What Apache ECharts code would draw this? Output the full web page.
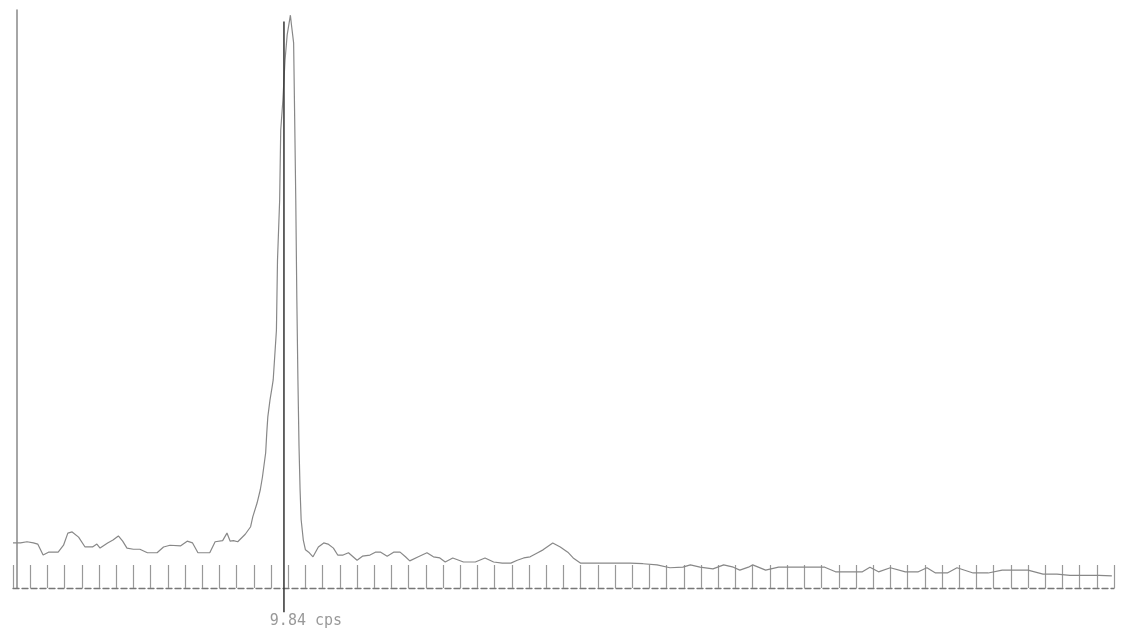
<!DOCTYPE html>
<html>
<head>
<meta charset="utf-8">
<script src="https://cdn.jsdelivr.net/npm/echarts@6/dist/echarts.min.js"></script>
<style>
html, body { margin: 0; padding: 0; background: #fff; }
#main { width: 1125px; height: 632px; }
</style>
</head>
<body>
<div id="main"></div>
<script>
// channel numbers of the spectrum points (1024 channel MCA, tick every 16)
var channels = [0, 7, 13, 19, 23, 28, 33, 42, 47, 51, 55, 61, 67, 74, 78, 81, 88, 93, 98, 102,
  106, 112, 118, 125, 134, 140, 146, 156, 162, 167, 172, 183, 188, 195, 199, 202, 205, 209, 216, 221,
  223, 227, 230, 232, 235, 236, 237, 239, 241, 242, 245, 246, 248, 249, 251, 253, 255, 258, 259, 261,
  262, 263, 264, 265, 266, 267, 268, 270, 272, 275, 279, 284, 289, 293, 298, 302, 307, 312, 320, 325,
  332, 337, 342, 348, 354, 360, 365, 369, 377, 385, 391, 397, 402, 409, 419, 430, 439, 447, 455, 463,
  469, 475, 481, 488, 493, 502, 509, 516, 521, 528, 537, 549, 562, 574, 586, 599, 611, 623, 630, 639,
  651, 661, 670, 676, 684, 688, 700, 712, 728, 740, 755, 765, 781, 790, 797, 805, 816, 830, 842, 850,
  858, 869, 878, 893, 907, 920, 932, 944, 958, 971, 983, 996, 1010, 1022];

// counts
var counts = [7.8, 7.8, 8.0, 7.8, 7.6, 5.7, 6.2, 6.2, 7.4, 9.5, 9.7, 8.8, 7.1, 7.1, 7.6, 6.9, 7.8, 8.3, 9.0, 8.1,
  6.9, 6.7, 6.7, 6.1, 6.1, 7.1, 7.4, 7.3, 8.1, 7.8, 6.1, 6.1, 8.0, 8.2, 9.5, 8.1, 8.2, 8.0, 9.3, 10.6,
  12.3, 14.7, 17.0, 19.2, 23.4, 26.8, 29.6, 32.5, 34.8, 36.0, 44.6, 56.7, 67.1, 79.2, 84.4, 91.3, 95.7, 99.1, 97.4, 94.3,
  81.0, 67.1, 49.8, 36.0, 24.6, 17.0, 11.8, 8.3, 6.6, 6.2, 5.4, 7.1, 7.8, 7.6, 6.9, 5.7, 5.7, 6.1, 4.8, 5.5,
  5.7, 6.2, 6.2, 5.5, 6.2, 6.2, 5.4, 4.7, 5.4, 6.1, 5.4, 5.2, 4.5, 5.2, 4.5, 4.5, 5.2, 4.5, 4.3, 4.3,
  4.8, 5.2, 5.4, 6.1, 6.6, 7.8, 7.1, 6.2, 5.2, 4.3, 4.3, 4.3, 4.3, 4.3, 4.2, 4.0, 3.5, 3.6, 4.0, 3.6,
  3.3, 4.0, 3.6, 3.1, 3.6, 4.0, 3.1, 3.6, 3.6, 3.6, 3.6, 2.8, 2.8, 2.8, 3.6, 2.8, 3.5, 2.8, 2.8, 3.5,
  2.6, 2.6, 3.5, 2.6, 2.6, 3.1, 3.1, 3.1, 2.4, 2.4, 2.2, 2.2, 2.2, 2.1];

// cursor
var cursorChannel = 252;
var cursorSpan = [-4.2, 98];
var cursorText = '9.84 cps';

var spectrum = [];
for (var i = 0; i < channels.length; i++) {
  spectrum.push([channels[i], counts[i]]);
}

var myChart = echarts.init(document.getElementById('main'));

var option = {
  backgroundColor: '#fff',
  animation: false,
  grid: { left: 13, right: 11, top: 10, bottom: 44 },
  xAxis: {
    type: 'value',
    min: 0,
    max: 1024,
    interval: 16,
    axisLine: { show: true, lineStyle: { color: '#777', width: 1.3, type: [6, 3] } },
    axisTick: { show: true, inside: true, length: 23, lineStyle: { color: '#999', width: 1.2 } },
    axisLabel: { show: false },
    splitLine: { show: false }
  },
  yAxis: {
    type: 'value',
    min: 0,
    max: 100,
    offset: -4,
    axisLine: { show: true, onZero: false, lineStyle: { color: '#888', width: 1.5 } },
    axisTick: { show: false },
    axisLabel: { show: false },
    splitLine: { show: false }
  },
  series: [
    {
      type: 'line',
      data: spectrum,
      symbol: 'none',
      lineStyle: { color: '#888', width: 1.2 }
    },
    {
      type: 'line',
      clip: false,
      data: [[cursorChannel, cursorSpan[0]], [cursorChannel, cursorSpan[1]]],
      symbol: 'none',
      lineStyle: { color: '#333', width: 1.5 }
    }
  ]
};

myChart.setOption(option);

// cursor read-out under the cursor foot
var foot = myChart.convertToPixel({ xAxisIndex: 0, yAxisIndex: 0 }, [cursorChannel, cursorSpan[0]]);
myChart.setOption({
  graphic: [{
    type: 'text',
    x: foot[0] + 22,
    y: foot[1] + 9,
    style: {
      text: cursorText,
      fill: '#999',
      font: '15px "DejaVu Sans Mono"',
      align: 'center',
      verticalAlign: 'middle'
    }
  }]
});
</script>
</body>
</html>
